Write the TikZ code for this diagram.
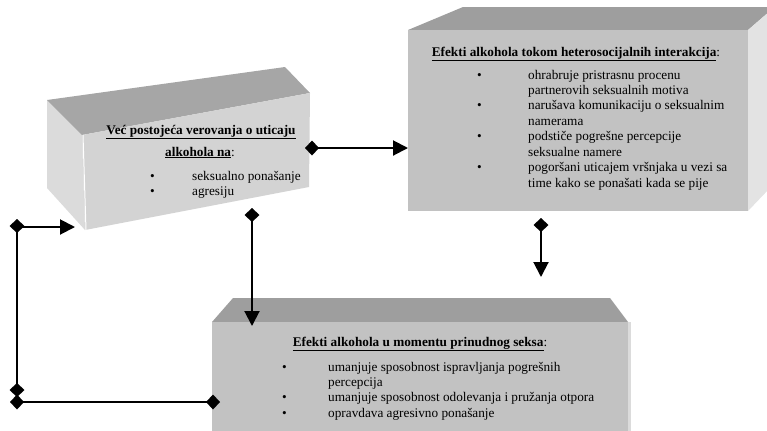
\documentclass[tikz,border=0pt]{standalone}
\usepackage{fontspec}
\setmainfont{Liberation Serif}
\usetikzlibrary{arrows.meta}

\definecolor{topA}{HTML}{A6A6A6}
\definecolor{sideA}{HTML}{DBDBDB}
\definecolor{frontA}{HTML}{D3D3D3}
\definecolor{topB}{HTML}{9E9E9E}
\definecolor{frontB}{HTML}{C2C2C2}
\definecolor{sideB}{HTML}{E3E3E3}

\newcommand{\bul}[1]{\makebox[#1][l]{\textbullet}}

\begin{document}
\begin{tikzpicture}[x=1bp, y=-1bp,
    every node/.style={inner sep=0pt, font=\fontsize{13.3}{15.5}\selectfont},
    link/.style={line width=2bp},
    dt/.style={link, arrows={Diamond[length=14bp,width=15bp]-Triangle[length=15bp,width=15bp]}},
    dd/.style={link, arrows={Diamond[length=14bp,width=15bp]-Diamond[length=14bp,width=15bp]}},
    lt/.style={link, arrows={-Triangle[length=15bp,width=15bp]}}]
\useasboundingbox (0,0) rectangle (767,430);
\clip (0,0) rectangle (767,430);

% box 1
\fill[sideA] (47,100) -- (82,135) -- (85,230) -- (47,188) -- cycle;
\fill[topA] (47,100) -- (285,67) -- (310,93) -- (82,135) -- cycle;
\fill[frontA] (82,135) -- (310,93) -- (309,187) -- (85,230) -- cycle;
\draw[white, line width=1bp] (83,135) -- (86,230);
% box 2
\fill[topB] (408,30) -- (463,7) -- (770,7) -- (770,11) -- (748,30) -- cycle;
\fill[sideB] (748,30) -- (770,11) -- (770,188) -- (748,211) -- cycle;
\fill[frontB] (408,30) rectangle (748,211);
% box 3
\fill[topB] (212,322) -- (233,298) -- (610,298) -- (628,322) -- cycle;
\fill[frontB] (212,322) rectangle (628,440);
\fill[sideA] (628,322) rectangle (631,440);

% texts
\node (v1) at (201,134) [anchor=base] {\underline{\textbf{Već postojeća verovanja o uticaju}}};
\node (v2) at (200,156) [anchor=base] {\underline{\textbf{alkohola na}}:};
\node (v3) at (150,180) [anchor=base west] {\begin{tabular}[t]{@{}l@{}}
  \bul{42bp}seksualno ponašanje\\
  \bul{42bp}agresiju
\end{tabular}};

\node (h1) at (576,56) [anchor=base] {\underline{\textbf{Efekti alkohola tokom heterosocijalnih interakcija}}:};
\node (h2) at (477,79) [anchor=base west] {\begin{tabular}[t]{@{}l@{}}
  \bul{51bp}ohrabruje pristrasnu procenu\\
  \hspace{51bp}partnerovih seksualnih motiva\\
  \bul{51bp}narušava komunikaciju o seksualnim\\
  \hspace{51bp}namerama\\
  \bul{51bp}podstiče pogrešne percepcije\\
  \hspace{51bp}seksualne namere\\
  \bul{51bp}pogoršani uticajem vršnjaka u vezi sa\\
  \hspace{51bp}time kako se ponašati kada se pije
\end{tabular}};

\node (p1) at (420,346) [anchor=base] {\underline{\textbf{Efekti alkohola u momentu prinudnog seksa}}:};
\node (p2) at (282,371) [anchor=base west] {\begin{tabular}[t]{@{}l@{}}
  \bul{46bp}umanjuje sposobnost ispravljanja pogrešnih\\
  \hspace{46bp}percepcija\\
  \bul{46bp}umanjuje sposobnost odolevanja i pružanja otpora\\
  \bul{46bp}opravdava agresivno ponašanje
\end{tabular}};

% connector ends
\coordinate (v1e) at (305,148);
\coordinate (h1w) at (408,148);
\coordinate (h1s) at (541,218);
\coordinate (h1t) at (541,277);
\coordinate (v1s) at (252,208);
\coordinate (p1n) at (252,326);
\coordinate (p1w) at (220,402);
\coordinate (c1) at (10,402);
\coordinate (c2) at (17,397);
\coordinate (c3) at (17,219);
\coordinate (c4) at (17,227);
\coordinate (v1w) at (75,227);

\draw[dt] (v1e) -- (h1w);
\draw[dt] (h1s) -- (h1t);
\draw[dt] (v1s) -- (p1n);
\draw[dd] (p1w) -- (c1);
\draw[dd] (c2) -- (c3);
\draw[lt] (c4) -- (v1w);
\end{tikzpicture}
\end{document}
